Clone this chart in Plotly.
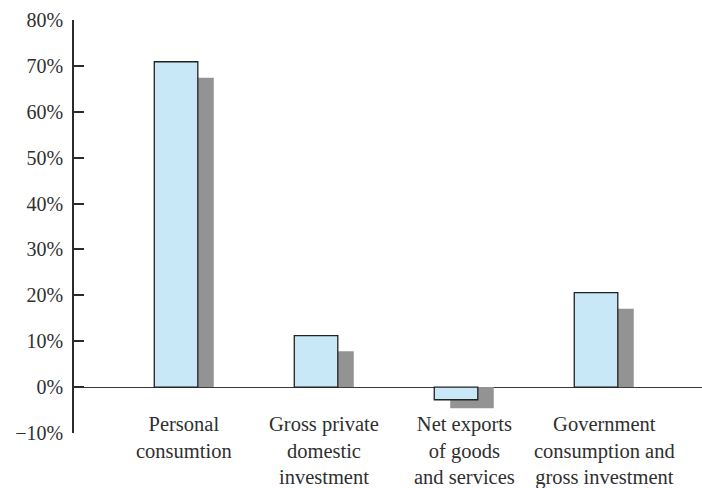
import plotly.graph_objects as go

categories = [
    "Personal<br>consumtion",
    "Gross private<br>domestic<br>investment",
    "Net exports<br>of goods<br>and services",
    "Government<br>consumption and<br>gross investment",
]
front_values = [70.9, 11.2, -2.75, 20.6]
back_values = [67.4, 7.8, -4.6, 17.1]
y_ticks = [-10, 0, 10, 20, 30, 40, 50, 60, 70, 80]

pos = list(range(len(categories)))
shift = 0.057
width = 0.311
font_family = "Liberation Serif, Times New Roman, serif"

fig = go.Figure()
fig.add_trace(go.Bar(
    x=[p + shift for p in pos], y=back_values, width=width,
    marker=dict(color="#939393", line=dict(width=0)),
    hoverinfo="y",
))
fig.add_trace(go.Bar(
    x=[p - shift for p in pos], y=front_values, width=width,
    marker=dict(color="#c8e8f8", line=dict(color="#222222", width=1.3)),
    hoverinfo="y",
))

for p, label in zip(pos, categories):
    fig.add_annotation(
        x=p, y=-5.3, xref="x", yref="y", text=label, showarrow=False,
        yanchor="top", xanchor="center", align="center",
        font=dict(family=font_family, size=20.5, color="#2f2f2f"),
    )

fig.update_layout(
    width=702, height=488,
    margin=dict(l=74, r=0, t=20, b=55),
    plot_bgcolor="white", paper_bgcolor="white",
    barmode="overlay", showlegend=False,
    font=dict(family=font_family, size=20, color="#2f2f2f"),
    xaxis=dict(range=[-0.786, 3.7], showgrid=False, zeroline=False,
               showline=False, showticklabels=False, ticks=""),
    yaxis=dict(range=[-10, 80], tickvals=y_ticks,
               ticktext=[("\u2212" if v < 0 else "") + f"{abs(v)}%" for v in y_ticks],
               showgrid=False, zeroline=True, zerolinecolor="#3a3a3a",
               zerolinewidth=1.4, showline=True, linecolor="#2b2b2b",
               linewidth=1.5, ticks="inside", ticklen=10, tickwidth=1.5,
               tickcolor="#2b2b2b", ticklabelstandoff=5),
)

fig.write_html("out.html")
